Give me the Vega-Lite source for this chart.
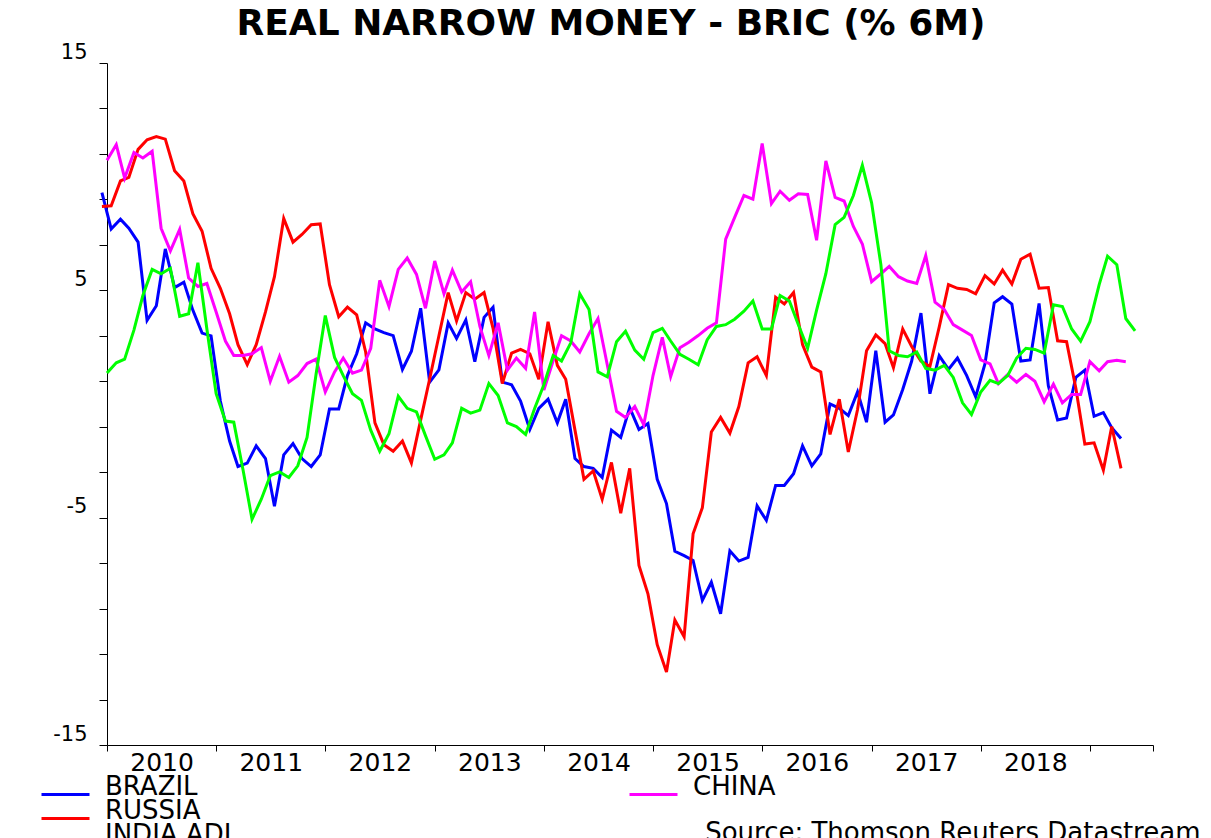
{
  "$schema": "https://vega.github.io/schema/vega-lite/v6.json",
  "autosize": "none",
  "width": 1046,
  "height": 682,
  "padding": {"left": 107, "top": 63, "right": 58, "bottom": 93},
  "background": "white",
  "config": {
    "view": {"stroke": null},
    "legend": {
      "orient": "none",
      "direction": "vertical",
      "title": null,
      "symbolType": "stroke",
      "symbolSize": 2304,
      "symbolStrokeWidth": 3,
      "labelFont": "DejaVu Sans",
      "labelFontSize": 26,
      "labelColor": "black",
      "labelBaseline": "alphabetic",
      "labelOffset": 14,
      "labelLimit": 400,
      "padding": 0
    }
  },
  "title": {
    "text": "REAL NARROW MONEY - BRIC (% 6M)",
    "font": "DejaVu Sans",
    "fontWeight": "bold",
    "fontSize": 36,
    "color": "black",
    "anchor": "middle",
    "dx": -19,
    "offset": -2
  },
  "datasets": {
    "a": [
      {"d":"2009-12-15","BRAZIL":9.3,"RUSSIA":8.69},
      {"d":"2010-01-15","BRAZIL":7.7,"RUSSIA":8.72},
      {"d":"2010-02-15","BRAZIL":8.13,"RUSSIA":9.81},
      {"d":"2010-03-15","BRAZIL":7.73,"RUSSIA":9.97},
      {"d":"2010-04-15","BRAZIL":7.12,"RUSSIA":11.2},
      {"d":"2010-05-15","BRAZIL":3.68,"RUSSIA":11.62},
      {"d":"2010-06-15","BRAZIL":4.32,"RUSSIA":11.76},
      {"d":"2010-07-15","BRAZIL":6.82,"RUSSIA":11.65},
      {"d":"2010-08-15","BRAZIL":5.12,"RUSSIA":10.26},
      {"d":"2010-09-15","BRAZIL":5.36,"RUSSIA":9.81},
      {"d":"2010-10-15","BRAZIL":4.13,"RUSSIA":8.37},
      {"d":"2010-11-15","BRAZIL":3.12,"RUSSIA":7.6},
      {"d":"2010-12-15","BRAZIL":3.0,"RUSSIA":5.97},
      {"d":"2011-01-15","BRAZIL":0.13,"RUSSIA":5.09},
      {"d":"2011-02-15","BRAZIL":-1.63,"RUSSIA":3.97},
      {"d":"2011-03-15","BRAZIL":-2.75,"RUSSIA":2.61},
      {"d":"2011-04-15","BRAZIL":-2.6,"RUSSIA":1.73},
      {"d":"2011-05-15","BRAZIL":-1.84,"RUSSIA":2.61},
      {"d":"2011-06-15","BRAZIL":-2.4,"RUSSIA":4.05},
      {"d":"2011-07-15","BRAZIL":-4.5,"RUSSIA":5.6},
      {"d":"2011-08-15","BRAZIL":-2.24,"RUSSIA":8.16},
      {"d":"2011-09-15","BRAZIL":-1.74,"RUSSIA":7.12},
      {"d":"2011-10-15","BRAZIL":-2.4,"RUSSIA":7.46},
      {"d":"2011-11-15","BRAZIL":-2.75,"RUSSIA":7.89},
      {"d":"2011-12-15","BRAZIL":-2.24,"RUSSIA":7.92},
      {"d":"2012-01-15","BRAZIL":-0.22,"RUSSIA":5.25},
      {"d":"2012-02-15","BRAZIL":-0.22,"RUSSIA":3.84},
      {"d":"2012-03-15","BRAZIL":1.25,"RUSSIA":4.26},
      {"d":"2012-04-15","BRAZIL":2.21,"RUSSIA":3.92},
      {"d":"2012-05-15","BRAZIL":3.57,"RUSSIA":2.29},
      {"d":"2012-06-15","BRAZIL":3.3,"RUSSIA":-0.83},
      {"d":"2012-07-15","BRAZIL":3.14,"RUSSIA":-1.79},
      {"d":"2012-08-15","BRAZIL":3.01,"RUSSIA":-2.08},
      {"d":"2012-09-15","BRAZIL":1.52,"RUSSIA":-1.63},
      {"d":"2012-10-15","BRAZIL":2.32,"RUSSIA":-2.59},
      {"d":"2012-11-15","BRAZIL":4.21,"RUSSIA":-0.7},
      {"d":"2012-12-15","BRAZIL":0.96,"RUSSIA":1.1},
      {"d":"2013-01-15","BRAZIL":1.5,"RUSSIA":3.0},
      {"d":"2013-02-15","BRAZIL":3.57,"RUSSIA":4.9},
      {"d":"2013-03-15","BRAZIL":2.88,"RUSSIA":3.65},
      {"d":"2013-04-15","BRAZIL":3.7,"RUSSIA":4.9},
      {"d":"2013-05-15","BRAZIL":1.86,"RUSSIA":4.61},
      {"d":"2013-06-15","BRAZIL":3.81,"RUSSIA":4.9},
      {"d":"2013-07-15","BRAZIL":4.26,"RUSSIA":3.33},
      {"d":"2013-08-15","BRAZIL":0.96,"RUSSIA":0.9},
      {"d":"2013-09-15","BRAZIL":0.85,"RUSSIA":2.24},
      {"d":"2013-10-15","BRAZIL":0.13,"RUSSIA":2.4},
      {"d":"2013-11-15","BRAZIL":-1.12,"RUSSIA":2.21},
      {"d":"2013-12-15","BRAZIL":-0.19,"RUSSIA":1.09},
      {"d":"2014-01-15","BRAZIL":0.21,"RUSSIA":3.62},
      {"d":"2014-02-15","BRAZIL":-0.83,"RUSSIA":1.7},
      {"d":"2014-03-15","BRAZIL":0.21,"RUSSIA":1.09},
      {"d":"2014-04-15","BRAZIL":-2.4,"RUSSIA":-1.15},
      {"d":"2014-05-15","BRAZIL":-2.75,"RUSSIA":-3.31},
      {"d":"2014-06-15","BRAZIL":-2.83,"RUSSIA":-2.94},
      {"d":"2014-07-15","BRAZIL":-3.23,"RUSSIA":-4.19},
      {"d":"2014-08-15","BRAZIL":-1.15,"RUSSIA":-2.57},
      {"d":"2014-09-15","BRAZIL":-1.47,"RUSSIA":-4.8},
      {"d":"2014-10-15","BRAZIL":-0.16,"RUSSIA":-2.83},
      {"d":"2014-11-15","BRAZIL":-1.12,"RUSSIA":-7.1},
      {"d":"2014-12-15","BRAZIL":-0.86,"RUSSIA":-8.35},
      {"d":"2015-01-15","BRAZIL":-3.31,"RUSSIA":-10.59},
      {"d":"2015-02-15","BRAZIL":-4.38,"RUSSIA":-11.79},
      {"d":"2015-03-15","BRAZIL":-6.48,"RUSSIA":-9.5},
      {"d":"2015-04-15","BRAZIL":-6.67,"RUSSIA":-10.24},
      {"d":"2015-05-15","BRAZIL":-6.88,"RUSSIA":-5.71},
      {"d":"2015-06-15","BRAZIL":-8.64,"RUSSIA":-4.56},
      {"d":"2015-07-15","BRAZIL":-7.84,"RUSSIA":-1.23},
      {"d":"2015-08-15","BRAZIL":-9.23,"RUSSIA":-0.59},
      {"d":"2015-09-15","BRAZIL":-6.46,"RUSSIA":-1.28},
      {"d":"2015-10-15","BRAZIL":-6.91,"RUSSIA":-0.11},
      {"d":"2015-11-15","BRAZIL":-6.75,"RUSSIA":1.81},
      {"d":"2015-12-15","BRAZIL":-4.48,"RUSSIA":2.08},
      {"d":"2016-01-15","BRAZIL":-5.12,"RUSSIA":1.25},
      {"d":"2016-02-15","BRAZIL":-3.58,"RUSSIA":4.69},
      {"d":"2016-03-15","BRAZIL":-3.58,"RUSSIA":4.4},
      {"d":"2016-04-15","BRAZIL":-3.07,"RUSSIA":4.9},
      {"d":"2016-05-15","BRAZIL":-1.84,"RUSSIA":2.61},
      {"d":"2016-06-15","BRAZIL":-2.72,"RUSSIA":1.62},
      {"d":"2016-07-15","BRAZIL":-2.19,"RUSSIA":1.41},
      {"d":"2016-08-15","BRAZIL":0.0,"RUSSIA":-1.34},
      {"d":"2016-09-15","BRAZIL":-0.19,"RUSSIA":0.21},
      {"d":"2016-10-15","BRAZIL":-0.51,"RUSSIA":-2.11},
      {"d":"2016-11-15","BRAZIL":0.53,"RUSSIA":-0.24},
      {"d":"2016-12-15","BRAZIL":-0.8,"RUSSIA":2.34},
      {"d":"2017-01-15","BRAZIL":2.34,"RUSSIA":3.04},
      {"d":"2017-02-15","BRAZIL":-0.8,"RUSSIA":2.66},
      {"d":"2017-03-15","BRAZIL":-0.48,"RUSSIA":1.6},
      {"d":"2017-04-15","BRAZIL":0.64,"RUSSIA":3.3},
      {"d":"2017-05-15","BRAZIL":1.89,"RUSSIA":2.53},
      {"d":"2017-06-15","BRAZIL":4.0,"RUSSIA":1.89},
      {"d":"2017-07-15","BRAZIL":0.45,"RUSSIA":1.65},
      {"d":"2017-08-15","BRAZIL":2.13,"RUSSIA":3.38},
      {"d":"2017-09-15","BRAZIL":1.52,"RUSSIA":5.25},
      {"d":"2017-10-15","BRAZIL":2.02,"RUSSIA":5.09},
      {"d":"2017-11-15","BRAZIL":1.25,"RUSSIA":5.04},
      {"d":"2017-12-15","BRAZIL":0.32,"RUSSIA":4.85},
      {"d":"2018-01-15","BRAZIL":1.76,"RUSSIA":5.65},
      {"d":"2018-02-15","BRAZIL":4.45,"RUSSIA":5.28},
      {"d":"2018-03-15","BRAZIL":4.72,"RUSSIA":5.89},
      {"d":"2018-04-15","BRAZIL":4.4,"RUSSIA":5.28},
      {"d":"2018-05-15","BRAZIL":1.89,"RUSSIA":6.37},
      {"d":"2018-06-15","BRAZIL":1.94,"RUSSIA":6.59},
      {"d":"2018-07-15","BRAZIL":4.42,"RUSSIA":5.09},
      {"d":"2018-08-15","BRAZIL":0.8,"RUSSIA":5.12},
      {"d":"2018-09-15","BRAZIL":-0.7,"RUSSIA":2.78},
      {"d":"2018-10-15","BRAZIL":-0.62,"RUSSIA":2.74},
      {"d":"2018-11-15","BRAZIL":1.17,"RUSSIA":0.69},
      {"d":"2018-12-15","BRAZIL":1.49,"RUSSIA":-1.76},
      {"d":"2019-01-15","BRAZIL":-0.54,"RUSSIA":-1.71},
      {"d":"2019-02-15","BRAZIL":-0.38,"RUSSIA":-2.91},
      {"d":"2019-03-15","BRAZIL":-1.04,"RUSSIA":-0.99},
      {"d":"2019-04-15","BRAZIL":-1.52,"RUSSIA":-2.83}
    ],
    "b": [
      {"d":"2010-01-01","CHINA":10.72,"INDIA ADJ":1.36},
      {"d":"2010-02-01","CHINA":11.41,"INDIA ADJ":1.81},
      {"d":"2010-03-01","CHINA":9.94,"INDIA ADJ":1.97},
      {"d":"2010-04-01","CHINA":11.06,"INDIA ADJ":3.25},
      {"d":"2010-05-01","CHINA":10.82,"INDIA ADJ":4.77},
      {"d":"2010-06-01","CHINA":11.12,"INDIA ADJ":5.92},
      {"d":"2010-07-01","CHINA":7.73,"INDIA ADJ":5.73},
      {"d":"2010-08-01","CHINA":6.74,"INDIA ADJ":5.97},
      {"d":"2010-09-01","CHINA":7.68,"INDIA ADJ":3.86},
      {"d":"2010-10-01","CHINA":5.54,"INDIA ADJ":3.97},
      {"d":"2010-11-01","CHINA":5.17,"INDIA ADJ":6.21},
      {"d":"2010-12-01","CHINA":5.3,"INDIA ADJ":3.3},
      {"d":"2011-01-01","CHINA":4.05,"INDIA ADJ":0.45},
      {"d":"2011-02-01","CHINA":2.77,"INDIA ADJ":-0.75},
      {"d":"2011-03-01","CHINA":2.13,"INDIA ADJ":-0.8},
      {"d":"2011-04-01","CHINA":2.13,"INDIA ADJ":-2.9},
      {"d":"2011-05-01","CHINA":2.21,"INDIA ADJ":-5.07},
      {"d":"2011-06-01","CHINA":2.48,"INDIA ADJ":-4.19},
      {"d":"2011-07-01","CHINA":1.0,"INDIA ADJ":-3.15},
      {"d":"2011-08-01","CHINA":2.1,"INDIA ADJ":-2.99},
      {"d":"2011-09-01","CHINA":0.96,"INDIA ADJ":-3.23},
      {"d":"2011-10-01","CHINA":1.25,"INDIA ADJ":-2.72},
      {"d":"2011-11-01","CHINA":1.78,"INDIA ADJ":-1.47},
      {"d":"2011-12-01","CHINA":1.97,"INDIA ADJ":1.3},
      {"d":"2012-01-01","CHINA":0.53,"INDIA ADJ":3.89},
      {"d":"2012-02-01","CHINA":1.41,"INDIA ADJ":2.05},
      {"d":"2012-03-01","CHINA":2.02,"INDIA ADJ":1.25},
      {"d":"2012-04-01","CHINA":1.36,"INDIA ADJ":0.45},
      {"d":"2012-05-01","CHINA":1.49,"INDIA ADJ":0.16},
      {"d":"2012-06-01","CHINA":2.45,"INDIA ADJ":-1.15},
      {"d":"2012-07-01","CHINA":5.44,"INDIA ADJ":-2.08},
      {"d":"2012-08-01","CHINA":4.29,"INDIA ADJ":-1.31},
      {"d":"2012-09-01","CHINA":5.92,"INDIA ADJ":0.34},
      {"d":"2012-10-01","CHINA":6.42,"INDIA ADJ":-0.19},
      {"d":"2012-11-01","CHINA":5.7,"INDIA ADJ":-0.35},
      {"d":"2012-12-01","CHINA":4.21,"INDIA ADJ":-1.39},
      {"d":"2013-01-01","CHINA":6.29,"INDIA ADJ":-2.43},
      {"d":"2013-02-01","CHINA":4.85,"INDIA ADJ":-2.24},
      {"d":"2013-03-01","CHINA":5.89,"INDIA ADJ":-1.71},
      {"d":"2013-04-01","CHINA":4.93,"INDIA ADJ":-0.19},
      {"d":"2013-05-01","CHINA":5.38,"INDIA ADJ":-0.4},
      {"d":"2013-06-01","CHINA":3.41,"INDIA ADJ":-0.27},
      {"d":"2013-07-01","CHINA":2.13,"INDIA ADJ":0.9},
      {"d":"2013-08-01","CHINA":3.57,"INDIA ADJ":0.37},
      {"d":"2013-09-01","CHINA":1.49,"INDIA ADJ":-0.83},
      {"d":"2013-10-01","CHINA":2.02,"INDIA ADJ":-0.99},
      {"d":"2013-11-01","CHINA":1.57,"INDIA ADJ":-1.34},
      {"d":"2013-12-01","CHINA":4.05,"INDIA ADJ":-0.2},
      {"d":"2014-01-01","CHINA":0.61,"INDIA ADJ":0.85},
      {"d":"2014-02-01","CHINA":1.9,"INDIA ADJ":2.13},
      {"d":"2014-03-01","CHINA":3.0,"INDIA ADJ":1.89},
      {"d":"2014-04-01","CHINA":2.77,"INDIA ADJ":2.69},
      {"d":"2014-05-01","CHINA":2.29,"INDIA ADJ":4.85},
      {"d":"2014-06-01","CHINA":3.09,"INDIA ADJ":4.16},
      {"d":"2014-07-01","CHINA":3.76,"INDIA ADJ":1.41},
      {"d":"2014-08-01","CHINA":1.73,"INDIA ADJ":1.2},
      {"d":"2014-09-01","CHINA":-0.32,"INDIA ADJ":2.74},
      {"d":"2014-10-01","CHINA":-0.59,"INDIA ADJ":3.2},
      {"d":"2014-11-01","CHINA":-0.11,"INDIA ADJ":2.37},
      {"d":"2014-12-01","CHINA":-0.91,"INDIA ADJ":1.97},
      {"d":"2015-01-01","CHINA":1.25,"INDIA ADJ":3.14},
      {"d":"2015-02-01","CHINA":2.93,"INDIA ADJ":3.33},
      {"d":"2015-03-01","CHINA":1.2,"INDIA ADJ":2.77},
      {"d":"2015-04-01","CHINA":2.48,"INDIA ADJ":2.18},
      {"d":"2015-05-01","CHINA":2.72,"INDIA ADJ":1.97},
      {"d":"2015-06-01","CHINA":3.01,"INDIA ADJ":1.73},
      {"d":"2015-07-01","CHINA":3.33,"INDIA ADJ":2.82},
      {"d":"2015-08-01","CHINA":3.57,"INDIA ADJ":3.41},
      {"d":"2015-09-01","CHINA":7.25,"INDIA ADJ":3.49},
      {"d":"2015-10-01","CHINA":8.21,"INDIA ADJ":3.73},
      {"d":"2015-11-01","CHINA":9.17,"INDIA ADJ":4.08},
      {"d":"2015-12-01","CHINA":9.01,"INDIA ADJ":4.53},
      {"d":"2016-01-01","CHINA":11.46,"INDIA ADJ":3.3},
      {"d":"2016-02-01","CHINA":8.82,"INDIA ADJ":3.3},
      {"d":"2016-03-01","CHINA":9.36,"INDIA ADJ":4.77},
      {"d":"2016-04-01","CHINA":8.96,"INDIA ADJ":4.53},
      {"d":"2016-05-01","CHINA":9.25,"INDIA ADJ":3.49},
      {"d":"2016-06-01","CHINA":9.22,"INDIA ADJ":2.45},
      {"d":"2016-07-01","CHINA":7.2,"INDIA ADJ":4.13},
      {"d":"2016-08-01","CHINA":10.69,"INDIA ADJ":5.73},
      {"d":"2016-09-01","CHINA":9.09,"INDIA ADJ":7.89},
      {"d":"2016-10-01","CHINA":8.93,"INDIA ADJ":8.21},
      {"d":"2016-11-01","CHINA":7.81,"INDIA ADJ":9.17},
      {"d":"2016-12-01","CHINA":7.04,"INDIA ADJ":10.5},
      {"d":"2017-01-01","CHINA":5.38,"INDIA ADJ":8.85},
      {"d":"2017-02-01","CHINA":5.73,"INDIA ADJ":6.13},
      {"d":"2017-03-01","CHINA":6.05,"INDIA ADJ":2.34},
      {"d":"2017-04-01","CHINA":5.6,"INDIA ADJ":2.13},
      {"d":"2017-05-01","CHINA":5.41,"INDIA ADJ":2.08},
      {"d":"2017-06-01","CHINA":5.3,"INDIA ADJ":2.29},
      {"d":"2017-07-01","CHINA":6.53,"INDIA ADJ":1.57},
      {"d":"2017-08-01","CHINA":4.48,"INDIA ADJ":1.49},
      {"d":"2017-09-01","CHINA":4.16,"INDIA ADJ":1.7},
      {"d":"2017-10-01","CHINA":3.49,"INDIA ADJ":1.17},
      {"d":"2017-11-01","CHINA":3.25,"INDIA ADJ":0.05},
      {"d":"2017-12-01","CHINA":3.01,"INDIA ADJ":-0.46},
      {"d":"2018-01-01","CHINA":1.94,"INDIA ADJ":0.53},
      {"d":"2018-02-01","CHINA":1.76,"INDIA ADJ":1.04},
      {"d":"2018-03-01","CHINA":0.9,"INDIA ADJ":0.9},
      {"d":"2018-04-01","CHINA":1.3,"INDIA ADJ":1.25},
      {"d":"2018-05-01","CHINA":0.96,"INDIA ADJ":2.02},
      {"d":"2018-06-01","CHINA":1.3,"INDIA ADJ":2.45},
      {"d":"2018-07-01","CHINA":1.0,"INDIA ADJ":2.4},
      {"d":"2018-08-01","CHINA":0.1,"INDIA ADJ":2.24},
      {"d":"2018-09-01","CHINA":0.88,"INDIA ADJ":4.37},
      {"d":"2018-10-01","CHINA":0.05,"INDIA ADJ":4.29},
      {"d":"2018-11-01","CHINA":0.42,"INDIA ADJ":3.3},
      {"d":"2018-12-01","CHINA":0.42,"INDIA ADJ":2.77},
      {"d":"2019-01-01","CHINA":1.86,"INDIA ADJ":3.62},
      {"d":"2019-02-01","CHINA":1.46,"INDIA ADJ":5.25},
      {"d":"2019-03-01","CHINA":1.86,"INDIA ADJ":6.5},
      {"d":"2019-04-01","CHINA":1.92,"INDIA ADJ":6.13},
      {"d":"2019-05-01","CHINA":1.86,"INDIA ADJ":3.76},
      {"d":"2019-06-01","INDIA ADJ":3.22}
    ]
  },
  "encoding": {
    "x": {
      "field": "d",
      "type": "temporal",
      "scale": {
        "type": "utc",
        "domain": [{"year": 2010, "month": 1, "date": 1, "utc": true}, {"year": 2019, "month": 7, "date": 31, "utc": true}]
      },
      "axis": {
        "values": [
          {"year": 2010, "month": 1, "date": 1, "utc": true},
          {"year": 2011, "month": 1, "date": 1, "utc": true},
          {"year": 2012, "month": 1, "date": 1, "utc": true},
          {"year": 2013, "month": 1, "date": 1, "utc": true},
          {"year": 2014, "month": 1, "date": 1, "utc": true},
          {"year": 2015, "month": 1, "date": 1, "utc": true},
          {"year": 2016, "month": 1, "date": 1, "utc": true},
          {"year": 2017, "month": 1, "date": 1, "utc": true},
          {"year": 2018, "month": 1, "date": 1, "utc": true},
          {"year": 2019, "month": 1, "date": 1, "utc": true},
          {"year": 2019, "month": 7, "date": 31, "utc": true}
        ],
        "labelExpr": "utcyear(datum.value) >= 2019 ? '' : utcFormat(datum.value, '%Y')",
        "labelOffset": 54.6,
        "labelAlign": "center",
        "labelBaseline": "top",
        "labelPadding": -1,
        "labelFlush": false,
        "labelOverlap": false,
        "labelBound": false,
        "labelFont": "DejaVu Sans",
        "labelFontSize": 25,
        "labelColor": "black",
        "tickSize": 6,
        "tickColor": "black",
        "domainColor": "black",
        "grid": false,
        "title": "Source: Thomson Reuters Datastream",
        "titleFont": "DejaVu Sans",
        "titleFontSize": 26,
        "titleFontWeight": "normal",
        "titleColor": "black",
        "titleAlign": "right",
        "titleAnchor": "end",
        "titleBaseline": "alphabetic",
        "titleX": 1093,
        "titleY": 95
      }
    }
  },
  "resolve": {"scale": {"color": "independent"}},
  "layer": [
    {
      "mark": {"type": "rule", "color": "black", "strokeWidth": 1},
      "encoding": {"y": {"datum": 0, "type": "quantitative"}}
    },
    {
      "data": {"name": "a"},
      "mark": {"type": "line", "strokeWidth": 3, "clip": false},
      "encoding": {
        "y": {
          "field": "BRAZIL",
          "type": "quantitative",
          "scale": {"domain": [-15, 15], "nice": false, "zero": false},
          "axis": {
            "values": [-15,-14,-13,-12,-11,-10,-9,-8,-7,-6,-5,-4,-3,-2,-1,0,1,2,3,4,5,6,7,8,9,10,11,12,13,14,15],
            "labelExpr": "datum.value % 5 == 0 ? '' + datum.value : ''",
            "tickSize": 8,
            "labelPadding": 12,
            "labelFont": "DejaVu Sans",
            "labelFontSize": 21,
            "labelColor": "black",
            "labelBaseline": "alphabetic",
            "labelOffset": -5,
            "labelOverlap": false,
            "labelBound": false,
            "labelFlush": false,
            "tickColor": "black",
            "domainColor": "black",
            "grid": false,
            "title": null
          }
        },
        "color": {
          "datum": "BRAZIL",
          "type": "nominal",
          "scale": {"range": ["#0000ff"]},
          "legend": {"legendX": -67, "legendY": 706}
        }
      }
    },
    {
      "data": {"name": "a"},
      "mark": {"type": "line", "strokeWidth": 3, "clip": false},
      "encoding": {
        "y": {"field": "RUSSIA", "type": "quantitative"},
        "color": {
          "datum": "RUSSIA",
          "type": "nominal",
          "scale": {"range": ["#ff0000"]},
          "legend": {"legendX": -67, "legendY": 730}
        }
      }
    },
    {
      "data": {"name": "b"},
      "mark": {"type": "line", "strokeWidth": 3, "clip": false},
      "encoding": {
        "y": {"field": "CHINA", "type": "quantitative"},
        "color": {
          "datum": "CHINA",
          "type": "nominal",
          "scale": {"range": ["#ff00ff"]},
          "legend": {"legendX": 521, "legendY": 706}
        }
      }
    },
    {
      "data": {"name": "b"},
      "mark": {"type": "line", "strokeWidth": 3, "clip": false},
      "encoding": {
        "y": {"field": "INDIA ADJ", "type": "quantitative"},
        "color": {
          "datum": "INDIA ADJ",
          "type": "nominal",
          "scale": {"range": ["#00ff00"]},
          "legend": {"legendX": -67, "legendY": 754}
        }
      }
    }
  ]
}
